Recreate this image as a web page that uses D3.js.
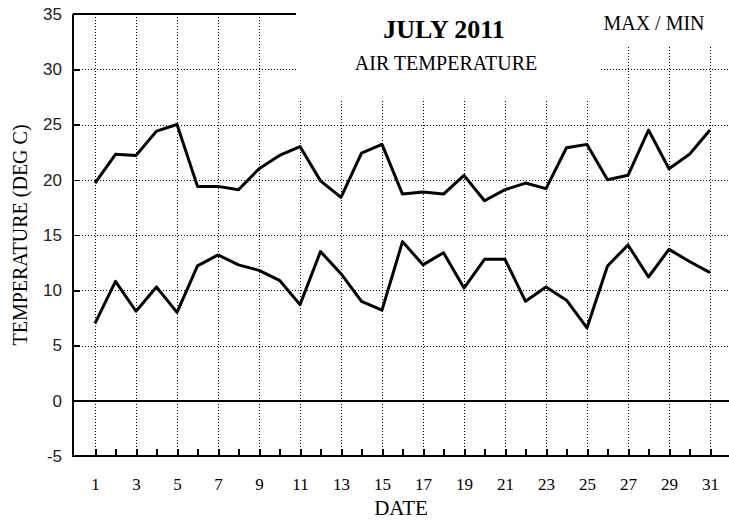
<!DOCTYPE html>
<html>
<head>
<meta charset="utf-8">
<script src="https://cdn.jsdelivr.net/npm/d3@7/dist/d3.min.js"></script>
<style>
  html, body { margin: 0; padding: 0; background: #fff; }
  svg { display: block; }
</style>
</head>
<body>
<svg id="chart" width="729" height="521"></svg>
<script>
// July 2011 daily air temperature, max and min (deg C)
const days = d3.range(1, 32);
const maxTemp = [19.7, 22.3, 22.2, 24.4, 25.0, 19.4, 19.4, 19.1, 21.0, 22.2,
                 23.0, 19.9, 18.4, 22.4, 23.2, 18.7, 18.9, 18.7, 20.4, 18.1,
                 19.1, 19.7, 19.2, 22.9, 23.2, 20.0, 20.4, 24.5, 21.0, 22.3, 24.5];
const minTemp = [7.0, 10.8, 8.1, 10.3, 8.0, 12.2, 13.2, 12.3, 11.8, 10.9,
                 8.7, 13.5, 11.5, 9.0, 8.2, 14.4, 12.3, 13.4, 10.2, 12.8,
                 12.8, 9.0, 10.3, 9.1, 6.6, 12.2, 14.1, 11.2, 13.7, 12.6, 11.6];
const yTicks = [-5, 0, 5, 10, 15, 20, 25, 30, 35];
const xLabelDays = d3.range(1, 32, 2);

const svg = d3.select("#chart");
const W = 729;
const axisX = 73;

const x = d3.scaleLinear().domain([0, 32]).range([74.5, 730.5]);
const y = d3.scaleLinear().domain([-5, 35]).range([456, 14]);

const serif = "'Liberation Serif', 'Times New Roman', serif";
const sans = "'Liberation Sans', Arial, sans-serif";

// dotted grid
const grid = svg.append("g").attr("stroke", "#000").attr("stroke-width", 1)
  .attr("stroke-dasharray", "1 2").attr("shape-rendering", "crispEdges");
grid.selectAll("line.h").data(yTicks.filter(v => v > -5 && v < 35 && v !== 0))
  .join("line").attr("class", "h")
  .attr("x1", axisX).attr("x2", W)
  .attr("y1", d => Math.round(y(d)) + 0.5).attr("y2", d => Math.round(y(d)) + 0.5);
grid.selectAll("line.v").data(xLabelDays)
  .join("line").attr("class", "v")
  .attr("x1", d => Math.round(x(d)) + 0.5).attr("x2", d => Math.round(x(d)) + 0.5)
  .attr("y1", y(-5)).attr("y2", y(35));

// blank panels behind the title and the series note
svg.append("rect").attr("x", 296).attr("y", 0).attr("width", 304).attr("height", 100).attr("fill", "#fff");
svg.append("rect").attr("x", 600).attr("y", 0).attr("width", 129).attr("height", 47).attr("fill", "#fff");

// solid frame lines
const frame = svg.append("g").attr("stroke", "#000").attr("stroke-width", 2).attr("shape-rendering", "crispEdges");
frame.append("line").attr("x1", axisX).attr("x2", axisX).attr("y1", y(35)).attr("y2", y(-5) + 1);
frame.append("line").attr("x1", axisX).attr("x2", W).attr("y1", y(-5)).attr("y2", y(-5));
frame.append("line").attr("x1", axisX).attr("x2", 296).attr("y1", y(35)).attr("y2", y(35));
frame.append("line").attr("x1", axisX).attr("x2", W).attr("y1", y(0)).attr("y2", y(0));

// day ticks along the bottom axis (pointing up)
const xAxis = d3.axisBottom(x).tickValues(days).tickSize(-7).tickPadding(22)
  .tickFormat(d => d % 2 === 1 ? String(d) : "");
const gx = svg.append("g").attr("transform", `translate(0,${y(-5)})`).call(xAxis);
gx.select(".domain").remove();
gx.selectAll(".tick line").attr("stroke", "#000").attr("stroke-width", 2).attr("shape-rendering", "crispEdges");
gx.selectAll(".tick text").attr("fill", "#000").style("font-family", serif).style("font-size", "17px");

// temperature axis labels (plain hyphen for negatives)
const yAxis = d3.axisLeft(y).tickValues(yTicks).tickSize(-7).tickPadding(11)
  .tickFormat(d => String(d));
const gy = svg.append("g").attr("transform", `translate(${axisX},0)`).call(yAxis);
gy.select(".domain").remove();
gy.selectAll(".tick line").attr("stroke", "#000").attr("stroke-width", 1.5).attr("shape-rendering", "crispEdges");
gy.selectAll(".tick text").attr("fill", "#222").style("font-family", sans).style("font-size", "17px");

// series
const line = d3.line().x((d, i) => x(days[i])).y(d => y(d));
[maxTemp, minTemp].forEach(series => {
  svg.append("path").datum(series).attr("d", line)
    .attr("fill", "none").attr("stroke", "#000").attr("stroke-width", 3)
    .attr("stroke-linejoin", "round");
});

// titles
svg.append("text").attr("x", 444).attr("y", 38).attr("text-anchor", "middle")
  .style("font-family", serif).style("font-size", "26px").style("font-weight", "bold")
  .text("JULY 2011");
svg.append("text").attr("x", 446).attr("y", 70).attr("text-anchor", "middle")
  .style("font-family", serif).style("font-size", "20px")
  .text("AIR TEMPERATURE");
svg.append("text").attr("x", 654).attr("y", 30).attr("text-anchor", "middle")
  .style("font-family", serif).style("font-size", "20px")
  .text("MAX / MIN");
svg.append("text").attr("x", 401).attr("y", 515).attr("text-anchor", "middle")
  .style("font-family", serif).style("font-size", "21px")
  .text("DATE");
svg.append("text").attr("transform", "translate(27,235) rotate(-90)").attr("text-anchor", "middle")
  .style("font-family", serif).style("font-size", "20px")
  .text("TEMPERATURE (DEG C)");
</script>
</body>
</html>
